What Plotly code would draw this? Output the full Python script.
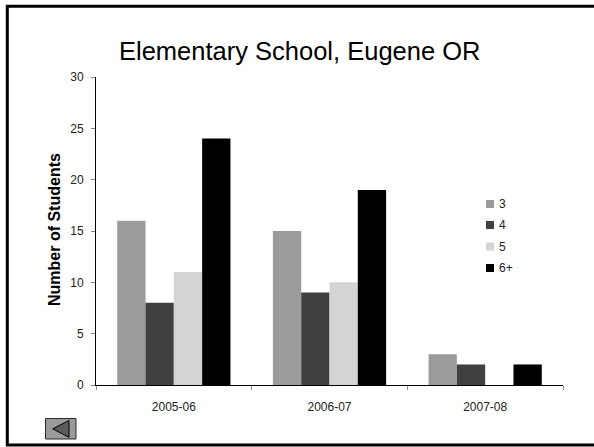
import plotly.graph_objects as go

# Enrollment by number of years, per school year
years = ["2005-06", "2006-07", "2007-08"]
series_names = ["3", "4", "5", "6+"]
students_3 = [16, 15, 3]
students_4 = [8, 9, 2]
students_5 = [11, 10, 0]
students_6plus = [24, 19, 2]
y_ticks = [0, 5, 10, 15, 20, 25, 30]

series_values = [students_3, students_4, students_5, students_6plus]
colors = ["#9b9b9b", "#404040", "#d4d4d4", "#000000"]

W, H = 594, 447
ML, MR, MT, MB = 96, 31, 77, 62
PW, PH = W - ML - MR, H - MT - MB

SANS = "Liberation Sans, Arial, sans-serif"


def px(x):
    return (x - ML) / PW


def py(y):
    return (H - MB - y) / PH


fig = go.Figure()
for name, vals, col in zip(series_names, series_values, colors):
    fig.add_trace(go.Bar(x=years, y=vals, name=name, marker_color=col,
                         marker_line_width=0, showlegend=False))

shapes = []
annotations = []

# Legend: small squares with labels to the right of the plot
legend_y = [204, 225, 246.5, 268]
for name, col, ly in zip(series_names, colors, legend_y):
    shapes.append(dict(type="rect", xref="paper", yref="paper",
                       x0=px(486), x1=px(494), y0=py(ly - 4), y1=py(ly + 4),
                       fillcolor=col, line=dict(width=0)))
    annotations.append(dict(text=name, xref="paper", yref="paper",
                            x=px(497), y=py(ly), xanchor="left", yanchor="middle",
                            showarrow=False,
                            font=dict(family=SANS, size=12, color="#222")))

# Title
annotations.append(dict(text="Elementary School, Eugene OR", xref="paper", yref="paper",
                        x=px(299.5), y=py(51), xanchor="center", yanchor="middle",
                        showarrow=False,
                        font=dict(family=SANS, size=25.5, color="#000")))

# Y-axis title
annotations.append(dict(text="<b>Number of Students</b>", xref="paper", yref="paper",
                        x=px(54), y=py(230), xanchor="center", yanchor="middle",
                        textangle=-90, showarrow=False,
                        font=dict(family=SANS, size=16, color="#000")))

# Slide frame
shapes.append(dict(type="rect", xref="paper", yref="paper",
                   x0=px(7.3), x1=px(605), y0=py(445), y1=py(6.2),
                   line=dict(color="#000", width=3), fillcolor="rgba(0,0,0,0)"))

# Back button
shapes.append(dict(type="rect", xref="paper", yref="paper",
                   x0=px(45.5), x1=px(76), y0=py(439), y1=py(418.5),
                   fillcolor="#9a9a9a", line=dict(color="#2a2a2a", width=1)))
tri = "M {:.5f},{:.5f} L {:.5f},{:.5f} L {:.5f},{:.5f} Z".format(
    px(52.7), py(428.8), px(69), py(420.5), px(69), py(437.3))
shapes.append(dict(type="path", xref="paper", yref="paper", path=tri,
                   fillcolor="#5c5c5c", line=dict(color="#000", width=1)))

fig.update_layout(
    width=W, height=H,
    margin=dict(l=ML, r=MR, t=MT, b=MB, pad=0),
    paper_bgcolor="white", plot_bgcolor="white",
    barmode="group", bargap=1.5 / 5.5, bargroupgap=0,
    shapes=shapes, annotations=annotations,
    xaxis=dict(type="category", showline=True, linecolor="#000", linewidth=1,
               ticks="outside", tickson="boundaries", ticklen=4, tickcolor="#888",
               tickfont=dict(family=SANS, size=12, color="#222"),
               ticklabelstandoff=11, showgrid=False, zeroline=False),
    yaxis=dict(range=[0, 30], tickvals=y_ticks, showline=True, linecolor="#000",
               linewidth=1, ticks="outside", ticklen=4, tickcolor="#888",
               tickfont=dict(family=SANS, size=12, color="#222"),
               ticklabelstandoff=5, showgrid=False, zeroline=False),
)

fig.write_html("out.html")
